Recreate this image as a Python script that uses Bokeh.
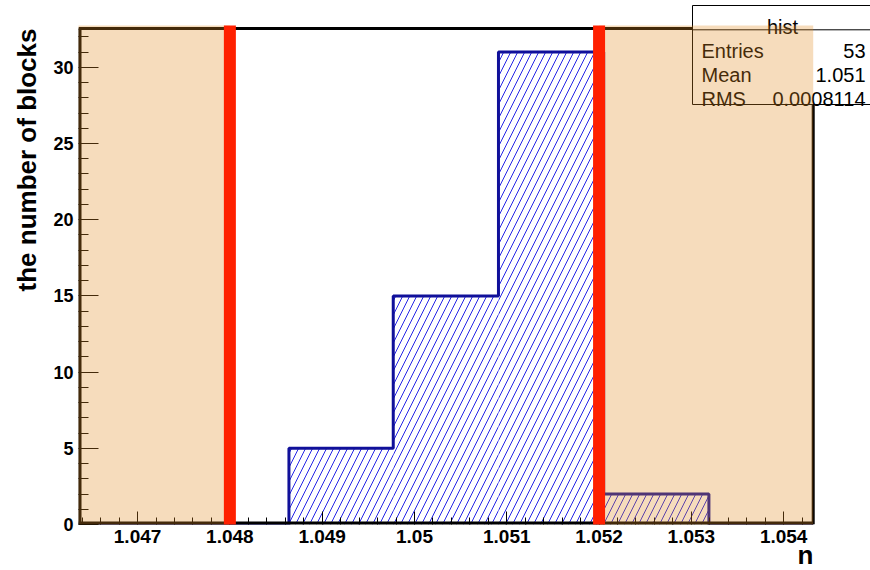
import math
from bokeh.plotting import figure
from bokeh.models import Range1d, FixedTicker, Title, CustomJSTickFormatter
from bokeh.embed import file_html
from bokeh.resources import INLINE
from bokeh.core.properties import value

# ---------------- data ----------------
bin_edges = [1.04636, 1.04750, 1.04864, 1.04977, 1.05091, 1.05205, 1.05319, 1.05432]
counts = [0, 0, 5, 15, 31, 2, 0]
cut_low = 1.048
cut_high = 1.052
x_major_ticks = [1.047, 1.048, 1.049, 1.050, 1.051, 1.052, 1.053, 1.054]
x_tick_labels = ["1.047", "1.048", "1.049", "1.05", "1.051", "1.052", "1.053", "1.054"]
y_major_ticks = [0, 5, 10, 15, 20, 25, 30]
y_tick_labels = ["0", "5", "10", "15", "20", "25", "30"]
hist_name = "hist"
stat_names = ["Entries", "Mean", "RMS"]
stat_values = ["53", "1.051", "0.0008114"]
x_title = "n"
y_title = "the number of blocks"

# ---------------- layout helpers ----------------
W, H = 870, 570
FL = 78          # frame left (px)
FB = 46          # space below frame (px)
PX_X = 92300.0   # px per x unit
PX_Y = 15.24     # px per count
x_lo, x_hi = bin_edges[0], bin_edges[-1]
y_top = 1.05 * max(counts)
x_end = x_lo + (W - FL) / PX_X
y_end = (H - FB) / PX_Y


def dx(px):
    return x_lo + (px - FL) / PX_X


def dy(py):
    return (H - FB - py) / PX_Y


FONT = "Liberation Sans"

p = figure(width=W, height=H, output_backend="svg", toolbar_location=None,
           x_range=Range1d(x_lo, x_end), y_range=Range1d(0, y_end),
           min_border_left=FL, min_border_right=0, min_border_top=0,
           min_border_bottom=FB)
p.outline_line_color = None
p.grid.visible = False
p.background_fill_color = "white"
p.border_fill_color = "white"

x_minor = [round(1.0464 + 0.0002 * i, 4) for i in range(40)]
x_minor = [t for t in x_minor if t <= 1.0542 and all(abs(t - m) > 1e-7 for m in x_major_ticks)]
y_minor = [v for v in range(1, 33) if v % 5 != 0]

FMT_CODE = """
    for (let i = 0; i < tv.length; i++) { if (Math.abs(tv[i] - tick) < 1e-9) return lb[i]; }
    return "";
"""
p.xaxis.ticker = FixedTicker(ticks=x_major_ticks, minor_ticks=x_minor)
p.yaxis.ticker = FixedTicker(ticks=y_major_ticks, minor_ticks=y_minor)
p.xaxis.formatter = CustomJSTickFormatter(args=dict(tv=x_major_ticks, lb=x_tick_labels), code=FMT_CODE)
p.yaxis.formatter = CustomJSTickFormatter(args=dict(tv=y_major_ticks, lb=y_tick_labels), code=FMT_CODE)
for ax, mj, mn, fs in ((p.xaxis, 13, 7, "19px"), (p.yaxis, 20, 10, "18px")):
    ax.axis_line_color = None
    ax.major_tick_in = mj
    ax.major_tick_out = 0
    ax.minor_tick_in = mn
    ax.minor_tick_out = 0
    ax.major_tick_line_color = "black"
    ax.minor_tick_line_color = "black"
    ax.major_tick_line_width = 1
    ax.minor_tick_line_width = 1
    ax.major_label_text_font = FONT
    ax.major_label_text_font_style = "bold"
    ax.major_label_text_font_size = fs
    ax.major_label_text_color = "black"
p.xaxis.major_label_standoff = 5
p.yaxis.major_label_standoff = 5

# histogram hatched fill
p.quad(left=bin_edges[:-1], right=bin_edges[1:], bottom=0, top=counts,
       fill_color="white", line_color=None, hatch_pattern="/",
       hatch_color="#2525E6", hatch_scale=14, hatch_weight=1)
# histogram outline
p.step(x=bin_edges, y=counts + [counts[-1]], mode="after",
       line_color="#10109A", line_width=3)

# frame lines
p.segment(x0=[x_lo, x_lo], y0=[0, 0], x1=[x_hi, x_lo], y1=[0, y_top],
          line_color="black", line_width=6)
p.segment(x0=[x_lo, x_hi], y0=[y_top, 0], x1=[x_hi, x_hi], y1=[y_top, y_top],
          line_color="black", line_width=3)

# stats box
p.quad(left=dx(692), right=x_end, bottom=dy(104), top=dy(5),
       fill_color="white", line_color="black", line_width=1)
p.segment(x0=dx(692), y0=dy(29.3), x1=x_end, y1=dy(29.3), line_color="black", line_width=1)
p.text(x=[dx(782)], y=[dy(26)], text=[hist_name], text_align="center",
       text_baseline="alphabetic", text_font=value(FONT), text_font_size="20px",
       text_color="black")
row_y = [dy(50), dy(74), dy(98)]
p.text(x=[dx(701)] * 3, y=row_y, text=stat_names, text_align="left",
       text_baseline="alphabetic", text_font=value(FONT), text_font_size="20px",
       text_color="black")
p.text(x=[dx(865)] * 3, y=row_y, text=stat_values, text_align="right",
       text_baseline="alphabetic", text_font=value(FONT), text_font_size="20px",
       text_color="black")

# excluded regions
p.quad(left=[x_lo, cut_high], right=[cut_low, x_hi], bottom=0, top=dy(25),
       fill_color="#E08A22", fill_alpha=0.3, line_color=None, level="overlay")
p.segment(x0=[cut_low, cut_high], y0=0, x1=[cut_low, cut_high], y1=dy(25),
          line_color="#FF2000", line_width=12, level="overlay")

# axis titles (as side titles so they sit outside the frame)
p.add_layout(Title(text=y_title, align="right", offset=28, standoff=17,
                   text_font=FONT, text_font_style="bold", text_font_size="26px",
                   text_line_height=0.8, text_color="black"), "left")
p.add_layout(Title(text=x_title, align="right", offset=(W - 813), standoff=-16,
                   text_font=FONT, text_font_style="bold", text_font_size="26px",
                   text_color="black"), "below")

open("out.html", "w").write(file_html(p, INLINE))
